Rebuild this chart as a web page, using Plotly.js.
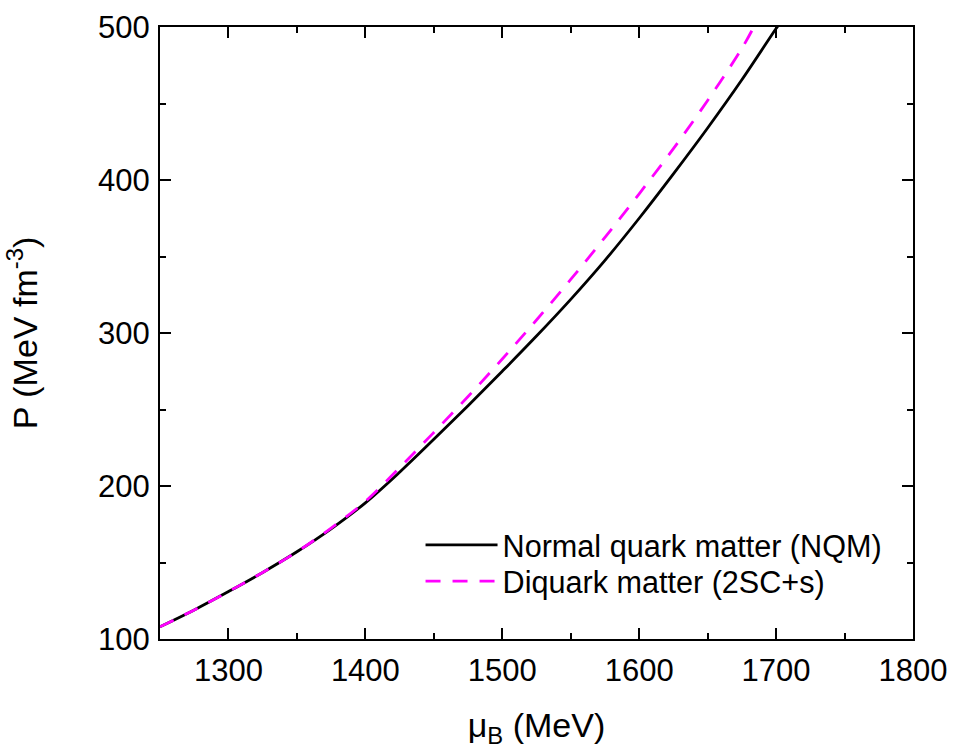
<!DOCTYPE html>
<html>
<head>
<meta charset="utf-8">
<script src="https://cdn.plot.ly/plotly-3.0.1.min.js"></script>
<style>html,body{margin:0;padding:0;background:#fff;}#chart{width:954px;height:749px;}</style>
</head>
<body>
<div id="chart"></div>
<script>
// Normal quark matter (NQM)
var muNQM = [1250, 1275, 1300, 1325, 1350, 1375, 1400, 1425, 1450, 1475, 1500, 1525, 1550, 1575, 1600, 1625, 1650, 1675, 1700, 1702];
var pNQM  = [108, 119, 131, 143.5, 157, 172, 189, 209, 230.5, 252.5, 275, 298, 322, 347.5, 375, 404, 434, 465.5, 499, 501.5];
// Diquark matter (2SC+s)
var mu2SC = [1250, 1275, 1300, 1325, 1350, 1375, 1400, 1425, 1450, 1475, 1500, 1525, 1550, 1575, 1600, 1625, 1650, 1675, 1684];
var p2SC  = [108, 119, 131, 143.5, 157, 172.5, 190, 212, 235, 258.5, 283, 308.5, 335, 362.5, 391, 420.5, 452, 486, 500.5];

var names = ["Normal quark matter (NQM)", "Diquark matter (2SC+s)"];
var xTitle = "μ<sub>B</sub> (MeV)";
var yTitle = "P (MeV fm<sup>-3</sup>)";

var FONT = "Arial, 'Liberation Sans', sans-serif";

var traces = [
  {x: muNQM, y: pNQM, mode: "lines", name: names[0], legend: "legend",
   line: {color: "#000000", width: 2.8, shape: "spline", smoothing: 1}},
  {x: mu2SC, y: p2SC, mode: "lines", name: names[1], legend: "legend2",
   line: {color: "#FF00FF", width: 2.8, dash: "15px,12px", shape: "spline", smoothing: 1}}
];

var axisCommon = {
  showline: true, linecolor: "#000", linewidth: 2, mirror: "ticks",
  ticks: "inside", ticklen: 11, tickwidth: 2, tickcolor: "#000",
  showgrid: false, zeroline: false,
  tickfont: {family: FONT, size: 31, color: "#000"},
  minor: {ticks: "inside", ticklen: 6, tickwidth: 2, tickcolor: "#000", dtick: 50, showgrid: false}
};

var legendCommon = {
  xanchor: "left", yanchor: "middle", bgcolor: "rgba(0,0,0,0)",
  borderwidth: 0, itemwidth: 72,
  font: {family: FONT, size: 30.6, color: "#000"}
};

var layout = {
  width: 954, height: 749,
  margin: {l: 160, r: 41, t: 27, b: 110},
  paper_bgcolor: "#fff", plot_bgcolor: "#fff",
  font: {family: FONT, size: 30, color: "#000"},
  showlegend: true,
  legend: Object.assign({}, legendCommon, {x: 0.346, y: 0.1535}),
  legend2: Object.assign({}, legendCommon, {x: 0.346, y: 0.0945}),
  xaxis: Object.assign({}, axisCommon, {
    range: [1250, 1800], tick0: 1300, dtick: 100, ticklabelstandoff: 3,
    title: {text: xTitle, font: {family: FONT, size: 34, color: "#000"}, standoff: 28}
  }),
  yaxis: Object.assign({}, axisCommon, {
    range: [100, 500], tick0: 100, dtick: 100, ticklabelstandoff: 2,
    title: {text: yTitle, font: {family: FONT, size: 34, color: "#000"}, standoff: 50}
  })
};

Plotly.newPlot("chart", traces, layout, {displayModeBar: false, staticPlot: true});
</script>
</body>
</html>
